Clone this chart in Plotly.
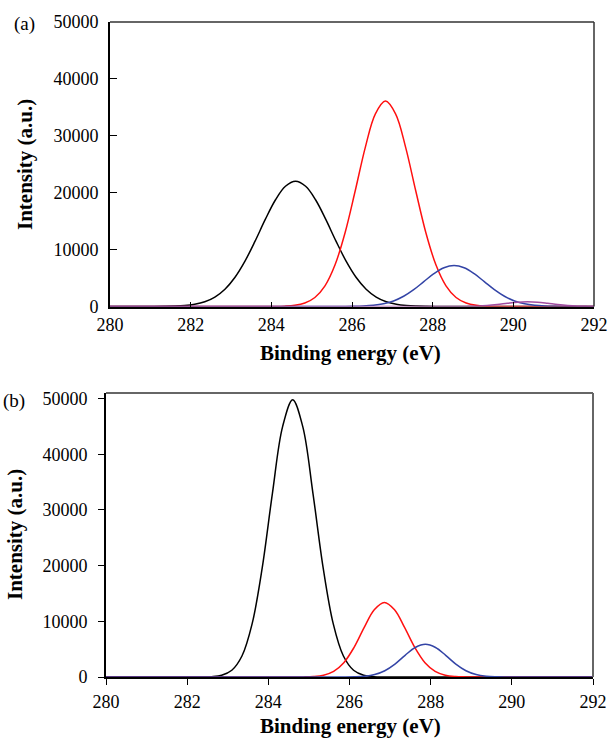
import plotly.graph_objects as go

W, H = 609, 740

# ---------------- data ----------------
step = 0.25  # eV spacing of the sampled half-profiles (peak -> tail)

# Panel (a)
a_black_center = 284.6
a_black_half = [22000, 21131, 18720, 15299, 11535, 8021, 5146, 3046, 1663, 837, 389, 167, 66, 24, 8, 0]
a_red_center = 286.83
a_red_half = [36100, 33869, 27970, 20335, 13010, 7328, 3635, 1586, 609, 206, 61, 16, 4, 0]
a_blue_center = 288.53
a_blue_half = [7200, 6811, 5765, 4367, 2960, 1796, 974, 473, 206, 80, 28, 9, 0]
a_purple_center = 290.35
a_purple_half = [850, 767, 562, 335, 163, 64, 21, 0]

# Panel (b)
b_black_center = 284.6
b_black_half = [49800, 44915, 32943, 19651, 9537, 3765, 1209, 315, 67, 12, 0]
b_red_center = 286.86
b_red_half = [13400, 12085, 8864, 5288, 2566, 1013, 325, 85, 18, 0]
b_blue_center = 287.87
b_blue_half = [5880, 5303, 3890, 2320, 1126, 445, 143, 37, 8, 0]

x_min, x_max = 280, 292
x_ticks = [280, 282, 284, 286, 288, 290, 292]
y_ticks = [0, 10000, 20000, 30000, 40000, 50000]
y_tick_text = ["0", "10000", "20000", "30000", "40000", "50000"]

x_title = "Binding energy (eV)"
y_title = "Intensity (a.u.)"

# ---------------- helpers ----------------
def profile(center, half):
    offs = [i * step for i in range(len(half))]
    xs = [center - o for o in reversed(offs[1:])] + [center + o for o in offs]
    ys = list(reversed(half[1:])) + list(half)
    pts = [(x, y) for x, y in zip(xs, ys) if x_min < x < x_max]
    return [x_min] + [p[0] for p in pts] + [x_max], [0] + [p[1] for p in pts] + [0]


def px(x):
    return x / W


def py(y):
    return 1 - y / H


BLACK = "#000000"
RED = "#FF1010"
BLUE = "#3344A6"
PURPLE = "#A04CA0"
FONT = "Liberation Serif"

fig = go.Figure()

for center, half, color in [
    (a_black_center, a_black_half, BLACK),
    (a_red_center, a_red_half, RED),
    (a_blue_center, a_blue_half, BLUE),
    (a_purple_center, a_purple_half, PURPLE),
]:
    xs, ys = profile(center, half)
    fig.add_trace(go.Scatter(x=xs, y=ys, mode="lines", line=dict(color=color, width=1.5, shape="spline"),
                             xaxis="x", yaxis="y", showlegend=False, hoverinfo="skip"))

for center, half, color in [
    (b_black_center, b_black_half, BLACK),
    (b_red_center, b_red_half, RED),
    (b_blue_center, b_blue_half, BLUE),
]:
    xs, ys = profile(center, half)
    fig.add_trace(go.Scatter(x=xs, y=ys, mode="lines", line=dict(color=color, width=1.5, shape="spline"),
                             xaxis="x2", yaxis="y2", showlegend=False, hoverinfo="skip"))

# panel geometry (pixels)
A_L, A_R, A_T, A_B = 110, 594, 22, 306.5
B_L, B_R, B_T, B_B = 106, 593, 393, 677

tickfont = dict(family=FONT, size=18, color="black")

common_x = dict(range=[x_min, x_max], tickvals=x_ticks, ticktext=[str(v) for v in x_ticks],
                showgrid=False, zeroline=False, showline=True, linecolor="black", linewidth=2,
                tickcolor="black", tickwidth=1.2, tickfont=tickfont, automargin=False)
common_y = dict(tickvals=y_ticks, ticktext=y_tick_text, showgrid=False, zeroline=False,
                showline=True, linecolor="black", linewidth=2, tickcolor="black", tickwidth=1.2,
                tickfont=tickfont, automargin=False)

fig.update_layout(
    width=W, height=H,
    margin=dict(l=0, r=0, t=0, b=0, pad=0, autoexpand=False),
    paper_bgcolor="white", plot_bgcolor="white",
    xaxis=dict(domain=[px(A_L), px(A_R)], anchor="y", ticks="inside", ticklen=5,
               ticklabelstandoff=1, **common_x),
    yaxis=dict(domain=[py(A_B), py(A_T)], anchor="x", range=[0, 50000], ticks="inside", ticklen=7,
               ticklabelstandoff=6, **common_y),
    xaxis2=dict(domain=[px(B_L), px(B_R)], anchor="y2", ticks="outside", ticklen=6,
                ticklabelstandoff=1, **common_x),
    yaxis2=dict(domain=[py(B_B), py(B_T)], anchor="x2", range=[0, 51000], ticks="outside", ticklen=6,
                ticklabelstandoff=7, **common_y),
)

# top / right frame edges (grey)
shapes = [
    dict(type="line", xref="paper", yref="paper", x0=px(A_L), x1=px(A_R), y0=py(A_T), y1=py(A_T),
         line=dict(color="#333333", width=1.5)),
    dict(type="line", xref="paper", yref="paper", x0=px(A_R), x1=px(A_R), y0=py(A_T), y1=py(A_B),
         line=dict(color="#333333", width=1.5)),
    dict(type="line", xref="paper", yref="paper", x0=px(B_L), x1=px(B_R), y0=py(B_T), y1=py(B_T),
         line=dict(color="#666666", width=2)),
    dict(type="line", xref="paper", yref="paper", x0=px(B_R), x1=px(B_R), y0=py(B_T), y1=py(B_B),
         line=dict(color="#666666", width=2)),
]
fig.update_layout(shapes=shapes)

titlefont = dict(family=FONT, size=21, color="black")
annos = [
    dict(text="<b>" + x_title + "</b>", x=px(350.5), y=py(353), font=titlefont),
    dict(text="<b>" + x_title + "</b>", x=px(350), y=py(726), font=titlefont),
    dict(text="<b>" + y_title + "</b>", x=px(25), y=py(165), font=titlefont, textangle=-90),
    dict(text="<b>" + y_title + "</b>", x=px(15), y=py(535), font=titlefont, textangle=-90),
    dict(text="(a)", x=px(24), y=py(24), font=dict(family=FONT, size=19, color="black")),
    dict(text="(b)", x=px(14), y=py(401), font=dict(family=FONT, size=19, color="black")),
]
for a in annos:
    a.update(xref="paper", yref="paper", showarrow=False, xanchor="center", yanchor="middle")
fig.update_layout(annotations=annos)

fig.write_html(
    "out.html",
    config={"displayModeBar": False},
    post_script="document.body.style.margin='0';document.body.style.overflow='hidden';",
)
